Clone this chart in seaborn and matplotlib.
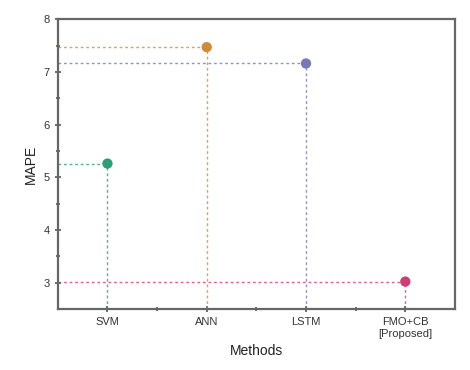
import numpy as np
import pandas as pd
import matplotlib.pyplot as plt
import seaborn as sns

# values
methods = ["SVM", "ANN", "LSTM", "FMO+CB\n[Proposed]"]
mape = [5.26, 7.47, 7.16, 3.02]
colors = ["#2e9e78", "#d08a3c", "#7878b4", "#cc3d78"]

df = pd.DataFrame({"pos": np.arange(1, len(methods) + 1), "MAPE": mape, "Method": methods})

sns.set_style("white")
plt.rcParams["font.family"] = ["Liberation Sans", "DejaVu Sans"]

fig, ax = plt.subplots(figsize=(4.7, 3.7), dpi=100)
ax.set_xlim(0.5, 4.5)
ax.set_ylim(2.5, 8)

# dashed guide lines from the axis to each point
for x, y, c in zip(df["pos"], df["MAPE"], colors):
    ax.hlines(y, 0.5, x, colors=c, linestyles=(0, (2, 2)), linewidth=1.0, alpha=0.8, zorder=1)
    ax.vlines(x, 2.5, y, colors=c, linestyles=(0, (2, 2)), linewidth=1.0, alpha=0.8, zorder=1)

sns.scatterplot(data=df, x="pos", y="MAPE", hue="Method", palette=colors,
                s=55, edgecolor="none", legend=False, zorder=3, ax=ax)

ax.set_xticks(df["pos"])
ax.set_xticklabels(methods, fontsize=8, color="#333333")
ax.set_xticks([1.5, 2.5, 3.5], minor=True)
ax.set_yticks([3, 4, 5, 6, 7, 8])
ax.set_yticks([3.5, 4.5, 5.5, 6.5, 7.5], minor=True)
ax.tick_params(axis="y", labelsize=8, labelcolor="#333333")
ax.tick_params(which="both", direction="inout", length=5, width=1.2, color="#555555",
               left=True, bottom=True)
ax.tick_params(which="minor", length=3)

for s in ax.spines.values():
    s.set_color("#666666")
    s.set_linewidth(1.6)

ax.set_xlabel("Methods", fontsize=10, color="#222222")
ax.set_ylabel("MAPE", fontsize=10, color="#222222")

fig.subplots_adjust(left=0.123, right=0.968, top=0.948, bottom=0.165)
fig.savefig("out.png", dpi=100)
